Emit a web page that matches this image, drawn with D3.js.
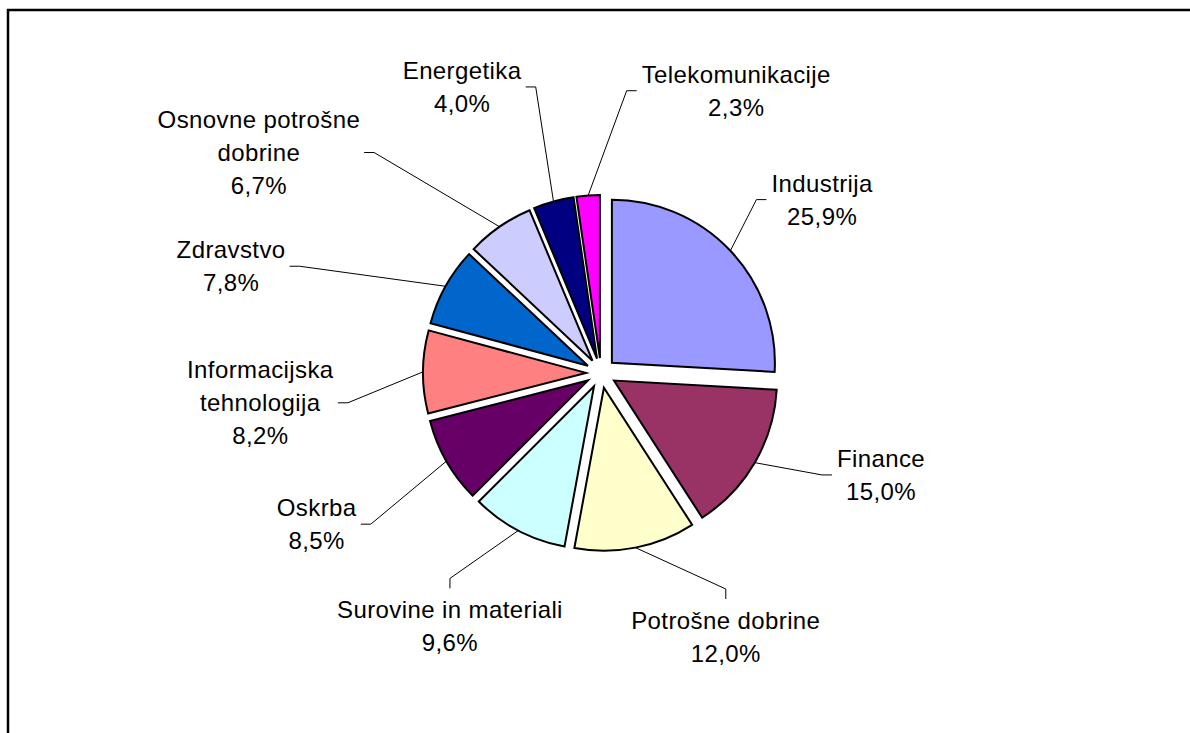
<!DOCTYPE html>
<html lang="sl">
<head>
<meta charset="UTF-8">
<style>
  body { margin: 0; background: #fff; }
  text { font-family: "Liberation Sans", Arial, sans-serif; font-size: 24px; letter-spacing: 0.4px; fill: #000; }
</style>
</head>
<body>
<div id="chart"></div>
<script src="https://cdn.jsdelivr.net/npm/d3@7/dist/d3.min.js"></script>
<script>
var sectors = ["Industrija", "Finance", "Potrošne dobrine", "Surovine in materiali", "Oskrba",
               "Informacijska tehnologija", "Zdravstvo", "Osnovne potrošne dobrine", "Energetika", "Telekomunikacije"];
var shares = [25.9, 15.0, 12.0, 9.6, 8.5, 8.2, 7.8, 6.7, 4.0, 2.3];
var sliceColors = ["#9999FF", "#993366", "#FFFFCC", "#CCFFFF", "#660066",
                   "#FF8080", "#0066CC", "#CCCCFF", "#000080", "#FF00FF"];

// where each label block sits: angle (deg, clockwise from 12 o'clock) and distance from the pie centre
var labelAngle = [51.9, 110.0, 154.7, 210.8, 242.0, 265.0, 286.1, 302.8, 334.1, 25.6];
var labelDist = [281, 298, 292, 295, 322, 342, 385, 407, 318, 313];

var width = 1190,
    height = 733,
    cx = 601, cy = 373,
    radius = 163,
    explode = 15,
    lineH = 33,
    wrapWidth = 240;

var si = d3.formatLocale({decimal: ",", thousands: ".", grouping: [3], currency: ["", " €"]});
var pct = si.format(".1f");

var svg = d3.select("#chart")
            .append("svg")
              .attr("width", width)
              .attr("height", height);

svg.append("rect")
   .attr("x", 8).attr("y", 10)
   .attr("width", 1300).attr("height", 900)
   .style("fill", "none")
   .style("stroke", "#000")
   .style("stroke-width", 2.5);

var pie = d3.pie().sort(null).value(function(d){ return d; });
var arcs = pie(shares);

var arc = d3.arc().innerRadius(0).outerRadius(radius);

function polar(angle, r) {
    return [cx + Math.sin(angle) * r, cy - Math.cos(angle) * r];
}

var g = svg.append("g");

g.selectAll("path.slice")
 .data(arcs)
 .enter()
 .append("path")
   .attr("class", "slice")
   .attr("d", arc)
   .attr("transform", function(d){
       var mid = (d.startAngle + d.endAngle) / 2;
       var p = polar(mid, explode);
       return "translate(" + p[0] + "," + p[1] + ")";
   })
   .style("fill", function(d, i){ return sliceColors[i]; })
   .style("stroke", "#000")
   .style("stroke-width", 2);

// measure for wrapping
var probe = svg.append("text").attr("x", -1000).attr("y", -1000);
function wrap(name) {
    var words = name.split(" "), lines = [], cur = "";
    words.forEach(function(w){
        var test = cur ? cur + " " + w : w;
        probe.text(test);
        if (cur && probe.node().getComputedTextLength() > wrapWidth) {
            lines.push(cur);
            cur = w;
        } else {
            cur = test;
        }
    });
    lines.push(cur);
    return lines;
}

arcs.forEach(function(d, i){
    var lines = wrap(sectors[i]).concat([pct(shares[i]) + "%"]);
    var a = labelAngle[i] * Math.PI / 180;
    var c = polar(a, labelDist[i]);
    var n = lines.length;

    var lab = svg.append("g").attr("class", "label");
    lines.forEach(function(t, k){
        lab.append("text")
           .attr("x", c[0])
           .attr("y", c[1] + (k - (n - 1) / 2) * lineH + 8.5)
           .attr("text-anchor", "middle")
           .text(t);
    });

    var box = lab.node().getBBox();
    var mid = (d.startAngle + d.endAngle) / 2;
    var midDeg = mid * 180 / Math.PI;
    var start = polar(mid, radius + explode);
    var anchor, elbow;
    if (midDeg > 140 && midDeg < 220) {
        anchor = [c[0], box.y - 8];
        elbow = [c[0], box.y - 18];
    } else if (c[0] > cx) {
        anchor = [box.x - 5, c[1]];
        elbow = [box.x - 15, c[1]];
    } else {
        anchor = [box.x + box.width + 4, c[1]];
        elbow = [box.x + box.width + 14, c[1]];
    }

    svg.append("path")
       .attr("d", d3.line()([start, elbow, anchor]))
       .style("fill", "none")
       .style("stroke", "#000")
       .style("stroke-width", 1);
});

probe.remove();
</script>
</body>
</html>
